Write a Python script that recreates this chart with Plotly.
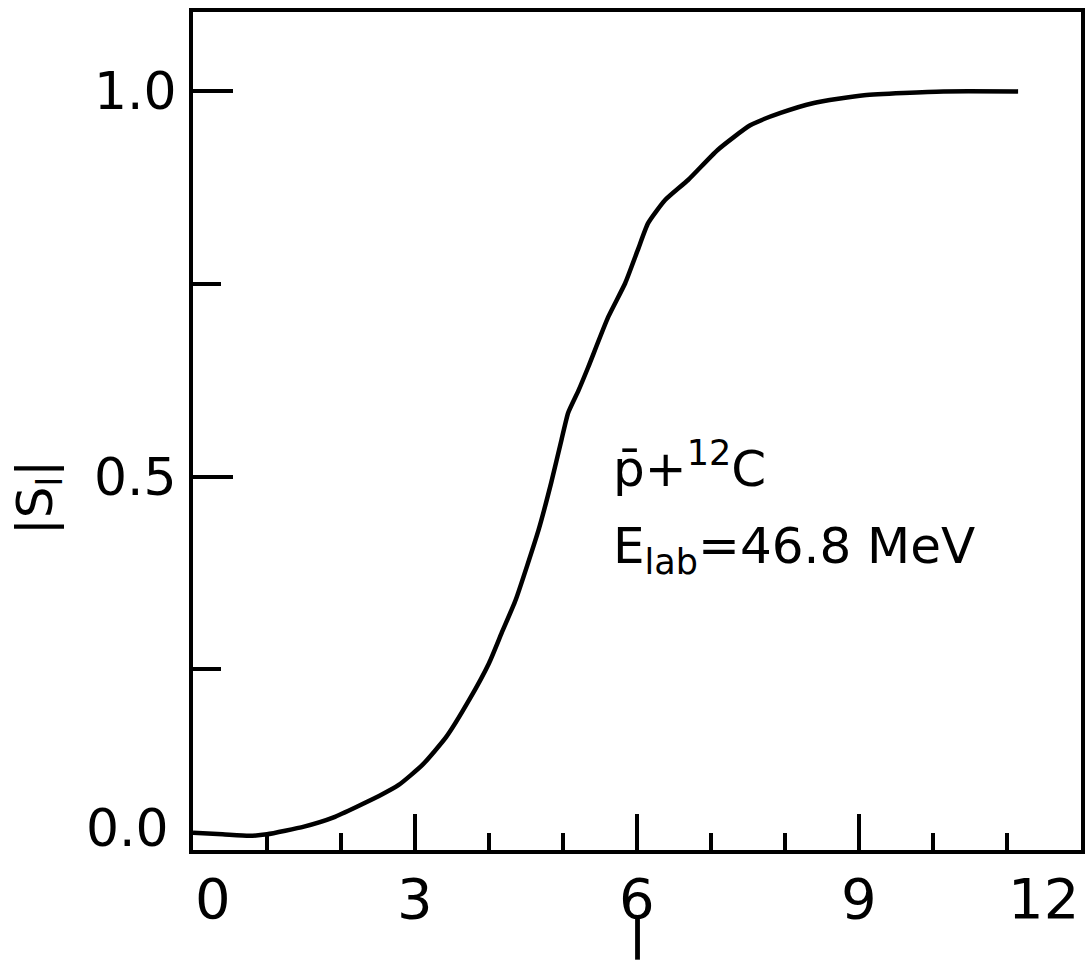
import plotly.graph_objects as go

# |S_l| versus orbital angular momentum l
l_values = [0.0, 0.4, 0.76, 1.0, 1.5, 1.9, 2.52, 2.78, 3.10, 3.42, 3.73, 4.0,
            4.17, 4.36, 4.67, 4.84, 4.98, 5.07, 5.21, 5.34, 5.61, 5.84,
            6.01, 6.15, 6.38, 6.69, 7.09, 7.53, 7.94, 8.39, 9.07, 10.14, 11.15]
s_values = [0.038, 0.036, 0.034, 0.036, 0.046, 0.058, 0.086, 0.100, 0.126,
            0.162, 0.210, 0.258, 0.297, 0.340, 0.431, 0.492, 0.548,
            0.583, 0.612, 0.642, 0.707, 0.751, 0.794, 0.829, 0.859, 0.885,
            0.924, 0.956, 0.972, 0.985, 0.995, 1.000, 1.000]

x_major_ticks = [0, 3, 6, 9, 12]
x_tick_labels = ["0", "3", "6", "9", "12"]
x_minor_ticks = [1, 2, 4, 5, 7, 8, 10, 11]
y_major_ticks = [0.5, 1.0]
y_tick_labels = ["0.5", "1.0"]
y_minor_ticks = [0.25, 0.75]
y_bottom_label = "0.0"

X_RANGE = [0, 12]
Y_RANGE = [0.0156, 1.103]

FONT = "DejaVu Sans"
INK = "black"

fig = go.Figure()
fig.add_trace(go.Scatter(
    x=l_values, y=s_values, mode="lines",
    line=dict(color=INK, width=4.5, shape="spline", smoothing=0.5),
    hoverinfo="skip", showlegend=False,
))

axis_common = dict(
    showline=True, mirror=True, linecolor=INK, linewidth=4,
    ticks="inside", tickcolor=INK, tickwidth=4,
    showticklabels=False, showgrid=False, zeroline=False,
)

fig.update_xaxes(
    range=X_RANGE, tickvals=x_major_ticks, ticklen=36,
    minor=dict(tickvals=x_minor_ticks, ticks="inside", ticklen=17,
               tickwidth=4, tickcolor=INK, showgrid=False),
    **axis_common,
)
fig.update_yaxes(
    range=Y_RANGE, tickvals=y_major_ticks, ticklen=40,
    minor=dict(tickvals=y_minor_ticks, ticks="inside", ticklen=28,
               tickwidth=4, tickcolor=INK, showgrid=False),
    **axis_common,
)

annotations = []

# x tick labels; end labels kept inside the frame edges
for i, (v, t) in enumerate(zip(x_major_ticks, x_tick_labels)):
    anchor = "left" if i == 0 else ("right" if i == len(x_major_ticks) - 1 else "center")
    annotations.append(dict(
        x=v, y=0, xref="x", yref="paper", text=t, showarrow=False,
        xanchor=anchor, yanchor="middle", yshift=-48, height=46,
        font=dict(family=FONT, size=56, color=INK),
    ))

# y tick labels
for v, t in zip(y_major_ticks, y_tick_labels):
    annotations.append(dict(
        x=0, y=v, xref="paper", yref="y", text=t, showarrow=False,
        xanchor="right", yanchor="middle", xshift=-14, height=44,
        font=dict(family=FONT, size=52, color=INK),
    ))
annotations.append(dict(
    x=0, y=Y_RANGE[0], xref="paper", yref="y", text=y_bottom_label,
    showarrow=False, xanchor="right", yanchor="middle", xshift=-22, yshift=22,
    height=44, font=dict(family=FONT, size=52, color=INK),
))

# axis titles
annotations.append(dict(
    x=0.5, y=0, xref="paper", yref="paper", text="l", showarrow=False,
    xanchor="center", yanchor="middle", yshift=-91,
    font=dict(family=FONT, size=54, color=INK),
))
annotations.append(dict(
    x=0, y=0.42, xref="paper", yref="paper", text="|S<sub>l</sub>|",
    showarrow=False, textangle=-90, xanchor="center", yanchor="middle",
    xshift=-155, font=dict(family=FONT, size=50, color=INK),
))

# reaction label
annotations.append(dict(
    x=5.65, y=0.515, xref="x", yref="y", text="p\u0304+<sup>12</sup>C",
    showarrow=False, xanchor="left", yanchor="middle",
    font=dict(family=FONT, size=50, color=INK),
))
annotations.append(dict(
    x=5.65, y=0.405, xref="x", yref="y", text="E<sub>lab</sub>=46.8 MeV",
    showarrow=False, xanchor="left", yanchor="middle",
    font=dict(family=FONT, size=50, color=INK),
))

fig.update_layout(
    width=1091, height=973,
    margin=dict(l=193, r=6, t=12, b=123),
    paper_bgcolor="white", plot_bgcolor="white",
    annotations=annotations,
)

fig.write_html("out.html")
